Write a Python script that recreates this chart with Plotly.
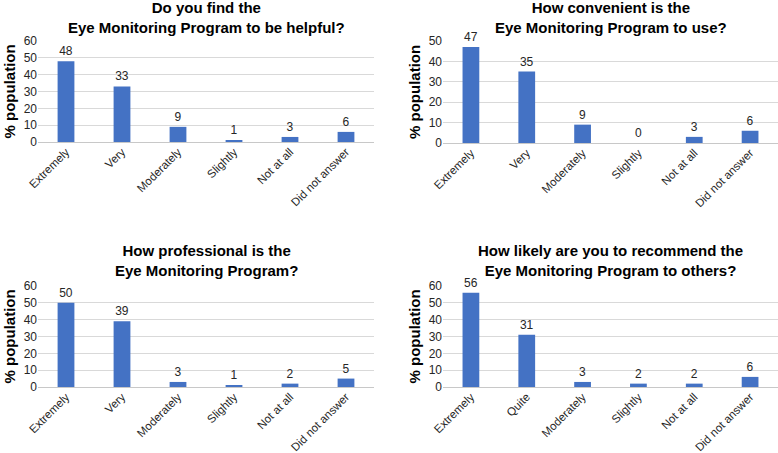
import plotly.graph_objects as go

W, H = 778, 453

cats_a = ["Extremely", "Very", "Moderately", "Slightly", "Not at all", "Did not answer"]
cats_b = ["Extremely", "Quite", "Moderately", "Slightly", "Not at all", "Did not answer"]

helpful = [48, 33, 9, 1, 3, 6]
convenient = [47, 35, 9, 0, 3, 6]
professional = [50, 39, 3, 1, 2, 5]
recommend = [56, 31, 3, 2, 2, 6]

titles = [
    "Do you find the<br>Eye Monitoring Program to be helpful?",
    "How convenient is the<br>Eye Monitoring Program to use?",
    "How professional is the<br>Eye Monitoring Program?",
    "How likely are you to recommend the<br>Eye Monitoring Program to others?",
]
yranges = [60, 50, 60, 60]
ydtick = 10

FONT = "Arial, Liberation Sans, sans-serif"
BAR = "#4472C4"
GRID = "#d9d9d9"
TXT = "#262626"

def px_x(p):
    return p / W

def px_y(p):
    return 1 - p / H

# panel pixel boxes: (x0, x1, ytop, ybottom)
boxes = [
    (38, 374, 41, 142),
    (443, 778, 41, 143),
    (38, 374, 286, 387),
    (443, 778, 286, 387),
]
data = [(cats_a, helpful), (cats_a, convenient), (cats_a, professional), (cats_b, recommend)]

fig = go.Figure()
layout = dict(
    width=W, height=H,
    margin=dict(l=0, r=0, t=0, b=0, autoexpand=False),
    paper_bgcolor="white", plot_bgcolor="white",
    showlegend=False,
    font=dict(family=FONT, size=12, color=TXT),
    bargap=0.70,
)
annotations = []
title_mid = [17.5, 17.5, 260, 260]
for i, ((cats, vals), (x0, x1, yt, yb)) in enumerate(zip(data, boxes)):
    n = "" if i == 0 else str(i + 1)
    fig.add_trace(go.Bar(
        x=cats, y=vals, marker=dict(color=BAR, line=dict(width=0)),
        text=[str(v) for v in vals], textposition="outside",
        textfont=dict(size=12, color=TXT), cliponaxis=False,
        xaxis="x" + n, yaxis="y" + n,
    ))
    layout["xaxis" + n] = dict(
        domain=[px_x(x0), px_x(x1)], anchor="y" + n, automargin=False,
        tickangle=-45, tickfont=dict(size=11.5, color=TXT),
        showgrid=False, showline=False, ticks="",
    )
    layout["yaxis" + n] = dict(
        domain=[px_y(yb), px_y(yt)], anchor="x" + n, automargin=False,
        range=[0, yranges[i]], dtick=ydtick, tick0=0,
        showgrid=True, gridcolor=GRID, gridwidth=1,
        zeroline=True, zerolinecolor="#c8c8c8", zerolinewidth=1,
        showline=False, ticks="", tickfont=dict(size=12, color=TXT),
    )
    annotations.append(dict(
        text="<b>" + titles[i] + "</b>", xref="paper", yref="paper",
        x=px_x((x0 + x1) / 2), y=px_y(title_mid[i]), xanchor="center", yanchor="middle",
        showarrow=False, font=dict(size=15, family=FONT, color="black"),
    ))
    annotations.append(dict(
        text="<b>% population</b>", xref="paper", yref="paper",
        x=px_x(x0 - 29), y=px_y((yt + yb) / 2), xanchor="center", yanchor="middle",
        textangle=-90, showarrow=False, font=dict(size=15, family=FONT, color="black"),
    ))

layout["annotations"] = annotations
fig.update_layout(**layout)
fig.write_html(
    "out.html",
    config={"displayModeBar": False},
    post_script="document.body.style.margin='0';document.body.style.overflow='hidden';",
)
